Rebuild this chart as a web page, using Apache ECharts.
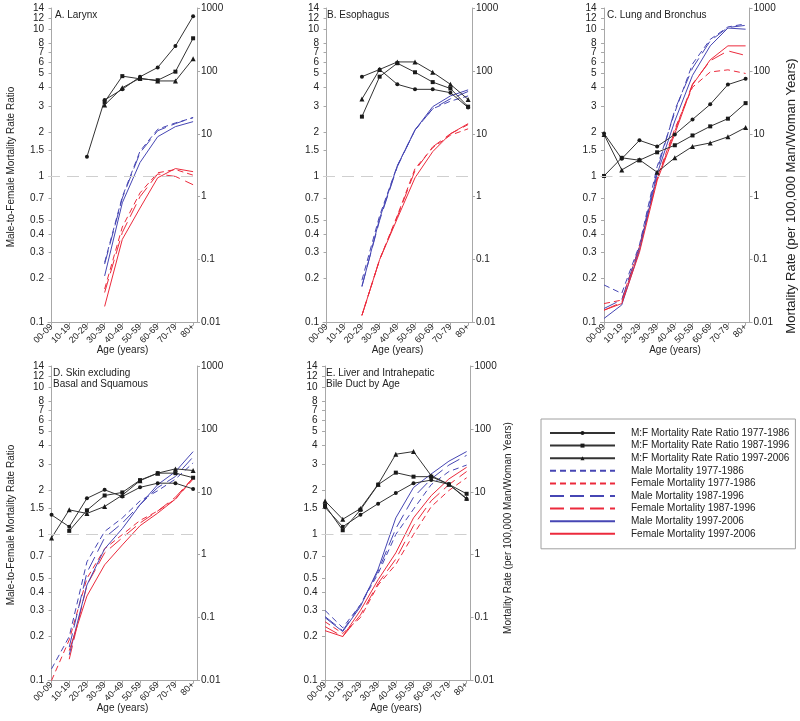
<!DOCTYPE html>
<html><head><meta charset="utf-8">
<script src="https://cdn.jsdelivr.net/npm/echarts@6/dist/echarts.min.js"></script>
<style>html,body{margin:0;padding:0;background:#fff}#c{width:800px;height:721px}</style>
</head><body><div id="c"></div>
<script>
// ---------- data ----------
const ages = ['00-09','10-19','20-29','30-39','40-49','50-59','60-69','70-79','80+'];
const ratioTicks = [0.1,0.2,0.3,0.4,0.5,0.7,1,1.5,2,3,4,5,6,7,8,10,12,14];
const rateTicks = [0.01,0.1,1,10,100,1000];
const periods = ['1977-1986','1987-1996','1997-2006'];
const panelTitles = ['A. Larynx','B. Esophagus','C. Lung and Bronchus','D. Skin excluding\nBasal and Squamous','E. Liver and Intrahepatic\nBile Duct by Age'];

// A. Larynx
const larynxRatio77 = [null,null,1.35,3.3,3.9,4.75,5.5,7.7,12.3];
const larynxRatio87 = [null,null,null,3.2,4.8,4.6,4.5,5.15,8.7];
const larynxRatio97 = [null,null,null,3.05,4.0,4.65,4.45,4.45,6.3];
const larynxMale77 = [null,null,null,0.09,1.0,5.3,11.8,14.9,18.0];
const larynxMale87 = [null,null,null,0.085,0.95,5.0,11.2,14.5,18.2];
const larynxMale97 = [null,null,null,0.055,0.8,3.5,9.0,13.0,15.6];
const larynxFemale77 = [null,null,null,0.034,0.33,1.15,2.4,2.7,2.2];
const larynxFemale87 = [null,null,null,0.03,0.27,1.0,2.3,2.1,1.55];
const larynxFemale97 = [null,null,null,0.018,0.21,0.66,2.0,2.8,2.5];

// B. Esophagus
const esoRatio77 = [null,null,4.76,5.33,4.22,3.9,3.9,3.7,2.93];
const esoRatio87 = [null,null,2.54,4.76,5.88,5.1,4.37,3.95,2.97];
const esoRatio97 = [null,null,3.35,5.33,6.0,6.0,5.1,4.22,3.33];
const esoMale77 = [null,null,0.047,0.5,3.1,11.5,25,33,40];
const esoMale87 = [null,null,0.038,0.42,3.0,11.5,25,36,47];
const esoMale97 = [null,null,0.037,0.45,3.1,11.5,27,40,50];
const esoFemale77 = [null,null,0.013,0.1,0.5,2.8,6.0,9.5,12];
const esoFemale87 = [null,null,0.013,0.1,0.48,2.6,6.2,10,14];
const esoFemale97 = [null,null,0.013,0.1,0.45,2.0,5.2,10,14.5];

// C. Lung and Bronchus
const lungRatio77 = [1.95,1.31,1.75,1.59,1.92,2.43,3.08,4.2,4.6];
const lungRatio87 = [1.0,1.33,1.28,1.45,1.62,1.89,2.18,2.46,3.14];
const lungRatio97 = [1.92,1.1,1.29,1.06,1.33,1.59,1.68,1.85,2.14];
const lungMale77 = [0.0395,0.029,0.17,3.0,22,129,317,500,560];
const lungMale87 = [0.0167,0.023,0.16,2.6,24,111,300,490,530];
const lungMale97 = [0.0116,0.019,0.14,2.3,16,85,250,480,460];
const lungFemale77 = [0.02,0.0227,0.16,2.0,12,55,96,104,91];
const lungFemale87 = [0.0157,0.021,0.15,1.9,11,62,145,208,176];
const lungFemale97 = [0.0157,0.02,0.13,1.8,10,60,150,250,250];

// D. Skin excluding Basal and Squamous
const skinRatio77 = [1.35,1.12,1.75,2.0,1.8,2.08,2.22,2.22,2.03];
const skinRatio87 = [null,1.05,1.45,1.83,1.92,2.33,2.6,2.6,2.42];
const skinRatio97 = [0.94,1.46,1.38,1.54,1.84,2.31,2.6,2.78,2.71];
const skinMale77 = [0.0153,0.05,0.77,2.34,3.84,7.16,10.4,15.9,28.8];
const skinMale87 = [null,0.034,0.52,1.86,3.19,6.22,11.7,17.5,35.8];
const skinMale97 = [null,0.0256,0.33,1.24,2.6,6.22,13.0,20.9,43.5];
const skinFemale77 = [0.01,0.0443,0.42,1.24,2.09,3.5,4.95,7.65,15.9];
const skinFemale87 = [null,0.0218,0.33,1.07,1.86,3.19,4.95,8.2,16.7];
const skinFemale97 = [null,0.0298,0.22,0.69,1.43,2.89,4.59,7.65,16.7];

// E. Liver and Intrahepatic Bile Duct
const liverRatio77 = [1.52,1.12,1.35,1.61,1.9,2.22,2.33,2.18,1.73];
const liverRatio87 = [1.57,1.06,1.46,2.17,2.62,2.46,2.46,2.18,1.88];
const liverRatio97 = [1.68,1.26,1.49,2.18,3.5,3.65,2.5,2.18,1.75];
const liverMale77 = [0.13,0.069,0.16,0.5,2.1,5.3,13,21,26.6];
const liverMale87 = [0.104,0.062,0.16,0.55,2.6,8.2,16,26.6,38];
const liverMale97 = [0.1,0.06,0.15,0.59,3.85,11.7,19.2,30.7,43.6];
const liverFemale77 = [0.086,0.056,0.1,0.33,0.7,2.1,5.8,10.5,16.7];
const liverFemale87 = [0.072,0.05,0.11,0.35,0.85,2.9,7.2,13,21];
const liverFemale97 = [0.062,0.05,0.13,0.4,1.07,3.85,8.7,16,24.5];

const panels = [
  {ratio:[larynxRatio77,larynxRatio87,larynxRatio97], male:[larynxMale77,larynxMale87,larynxMale97], female:[larynxFemale77,larynxFemale87,larynxFemale97]},
  {ratio:[esoRatio77,esoRatio87,esoRatio97], male:[esoMale77,esoMale87,esoMale97], female:[esoFemale77,esoFemale87,esoFemale97]},
  {ratio:[lungRatio77,lungRatio87,lungRatio97], male:[lungMale77,lungMale87,lungMale97], female:[lungFemale77,lungFemale87,lungFemale97]},
  {ratio:[skinRatio77,skinRatio87,skinRatio97], male:[skinMale77,skinMale87,skinMale97], female:[skinFemale77,skinFemale87,skinFemale97]},
  {ratio:[liverRatio77,liverRatio87,liverRatio97], male:[liverMale77,liverMale87,liverMale97], female:[liverFemale77,liverFemale87,liverFemale97]}
];

// ---------- layout / style ----------
const FONT = 'Liberation Sans, Arial, sans-serif';
const layout = [
  {left:48, top:8, width:149, height:314.5},
  {left:323, top:8, width:149, height:314.5},
  {left:600.5, top:8, width:149, height:314.5},
  {left:48, top:366, width:149, height:314.5},
  {left:321.5, top:366, width:149, height:314.5}
];
const AXIS_COLOR = '#a8a8a8';
const BLUE = '#4646b4';
const RED = '#ec2a3c';
const DASHES = [[6,4],[14,6],'solid'];
const SYMBOLS = ['circle','rect','triangle'];
const SYMSIZE = [4,4,5];
const ratioNames = periods.map(p => 'M:F Mortality Rate Ratio ' + p);
const maleNames = periods.map(p => 'Male Mortality ' + p);
const femaleNames = periods.map(p => 'Female Mortality ' + p);
const fmt = v => String(+Number(v).toPrecision(3));
const toPairs = arr => arr.map((v, i) => [i, v == null ? null : v]);

const grids = [], xAxes = [], yAxes = [], series = [];
layout.forEach((g, k) => {
  grids.push({left:g.left, top:g.top, width:g.width, height:g.height, containLabel:false});
  xAxes.push({
    type:'value', gridIndex:k, min:-0.2, max:8.22,
    axisLine:{show:true, onZero:false, lineStyle:{color:AXIS_COLOR, width:1}},
    axisTick:{show:true, customValues:[0,1,2,3,4,5,6,7,8], length:3, lineStyle:{color:AXIS_COLOR}},
    axisLabel:{customValues:[0,1,2,3,4,5,6,7,8], formatter:v => ages[Math.round(v)], rotate:45, fontSize:9, fontFamily:FONT, color:'#222', margin:3, showMinLabel:true, showMaxLabel:true, hideOverlap:false},
    splitLine:{show:false}
  });
  yAxes.push({
    type:'log', logBase:10, gridIndex:k, position:'left', min:0.1, max:14.0002,
    axisLine:{show:true, lineStyle:{color:AXIS_COLOR, width:1}},
    axisTick:{show:true, customValues:ratioTicks, length:3, lineStyle:{color:AXIS_COLOR}},
    axisLabel:{customValues:ratioTicks, formatter:fmt, fontSize:10, fontFamily:FONT, color:'#222', margin:4, hideOverlap:false},
    splitLine:{show:false}, minorTick:{show:false}
  });
  yAxes.push({
    type:'log', logBase:10, gridIndex:k, position:'right', min:0.01, max:1000,
    axisLine:{show:true, lineStyle:{color:AXIS_COLOR, width:1}},
    axisTick:{show:true, customValues:rateTicks, length:3, lineStyle:{color:AXIS_COLOR}},
    axisLabel:{customValues:rateTicks, formatter:fmt, fontSize:10, fontFamily:FONT, color:'#222', margin:4, showMinLabel:true, showMaxLabel:true, hideOverlap:false},
    splitLine:{show:false}, minorTick:{show:false}
  });
  const p = panels[k];
  for (let j = 0; j < 3; j++) {
    series.push({type:'line', name:maleNames[j], xAxisIndex:k, yAxisIndex:2*k+1, data:toPairs(p.male[j]),
      symbol:'none', lineStyle:{color:BLUE, width:1, type:DASHES[j]}, itemStyle:{color:BLUE}, z:2});
    series.push({type:'line', name:femaleNames[j], xAxisIndex:k, yAxisIndex:2*k+1, data:toPairs(p.female[j]),
      symbol:'none', lineStyle:{color:RED, width:1, type:DASHES[j]}, itemStyle:{color:RED}, z:2});
  }
  for (let j = 0; j < 3; j++) {
    const s = {type:'line', name:ratioNames[j], xAxisIndex:k, yAxisIndex:2*k, data:toPairs(p.ratio[j]),
      symbol:SYMBOLS[j], symbolSize:SYMSIZE[j], showSymbol:true,
      lineStyle:{color:'#333', width:1}, itemStyle:{color:'#1a1a1a'}, z:3};
    if (j === 0) {
      s.markLine = {silent:true, symbol:'none', label:{show:false},
        lineStyle:{color:'#cfcfcf', type:[12,7], width:1}, data:[{yAxis:1}], animation:false};
    }
    series.push(s);
  }
});

const txt = (text, x, y) => ({type:'text', x, y, silent:true,
  style:{text, font:'10px ' + FONT, fill:'#222', align:'left', verticalAlign:'middle', lineHeight:11}});
const graphics = [
  txt(panelTitles[0], 55, 15),
  txt(panelTitles[1], 327, 15),
  txt(panelTitles[2], 607, 15),
  {type:'text', x:53, y:368, silent:true, style:{text:panelTitles[3], font:'10px ' + FONT, fill:'#222', align:'left', verticalAlign:'top', lineHeight:11}},
  {type:'text', x:326, y:368, silent:true, style:{text:panelTitles[4], font:'10px ' + FONT, fill:'#222', align:'left', verticalAlign:'top', lineHeight:11}},
  {type:'text', x:11, y:167, rotation:Math.PI/2, silent:true, style:{text:'Male-to-Female Mortality Rate Ratio', font:'10px ' + FONT, fill:'#222', align:'center', verticalAlign:'middle'}},
  {type:'text', x:11, y:525, rotation:Math.PI/2, silent:true, style:{text:'Male-to-Female Mortality Rate Ratio', font:'10px ' + FONT, fill:'#222', align:'center', verticalAlign:'middle'}},
  {type:'text', x:791, y:196, rotation:Math.PI/2, silent:true, style:{text:'Mortality Rate (per 100,000 Man/Woman Years)', font:'13px ' + FONT, fill:'#222', align:'center', verticalAlign:'middle'}},
  {type:'text', x:508, y:528, rotation:Math.PI/2, silent:true, style:{text:'Mortality Rate (per 100,000 Man/Woman Years)', font:'10px ' + FONT, fill:'#222', align:'center', verticalAlign:'middle'}}
];
layout.forEach(g => {
  graphics.push({type:'text', x:g.left + g.width/2, y:g.top + g.height + 28, silent:true,
    style:{text:'Age (years)', font:'10px ' + FONT, fill:'#222', align:'center', verticalAlign:'middle'}});
});

const hideMarker = name => ({name, itemStyle:{opacity:0}});
const chart = echarts.init(document.getElementById('c'), null, {renderer:'canvas'});
chart.setOption({
  animation:false,
  backgroundColor:'#fff',
  grid:grids, xAxis:xAxes, yAxis:yAxes, series,
  legend:{
    orient:'vertical', left:541, top:419,
    data:[ratioNames[0],ratioNames[1],ratioNames[2],
      hideMarker(maleNames[0]),hideMarker(femaleNames[0]),hideMarker(maleNames[1]),
      hideMarker(femaleNames[1]),hideMarker(maleNames[2]),hideMarker(femaleNames[2])],
    itemWidth:65, itemHeight:5, itemGap:2.6,
    padding:[9,6,10,8],
    borderColor:'#a0a0a0', borderWidth:1,
    textStyle:{fontSize:10, fontFamily:FONT, color:'#222', lineHeight:10, padding:[0,0,0,11]},
    selectedMode:false
  },
  graphic:graphics
});
</script></body></html>
